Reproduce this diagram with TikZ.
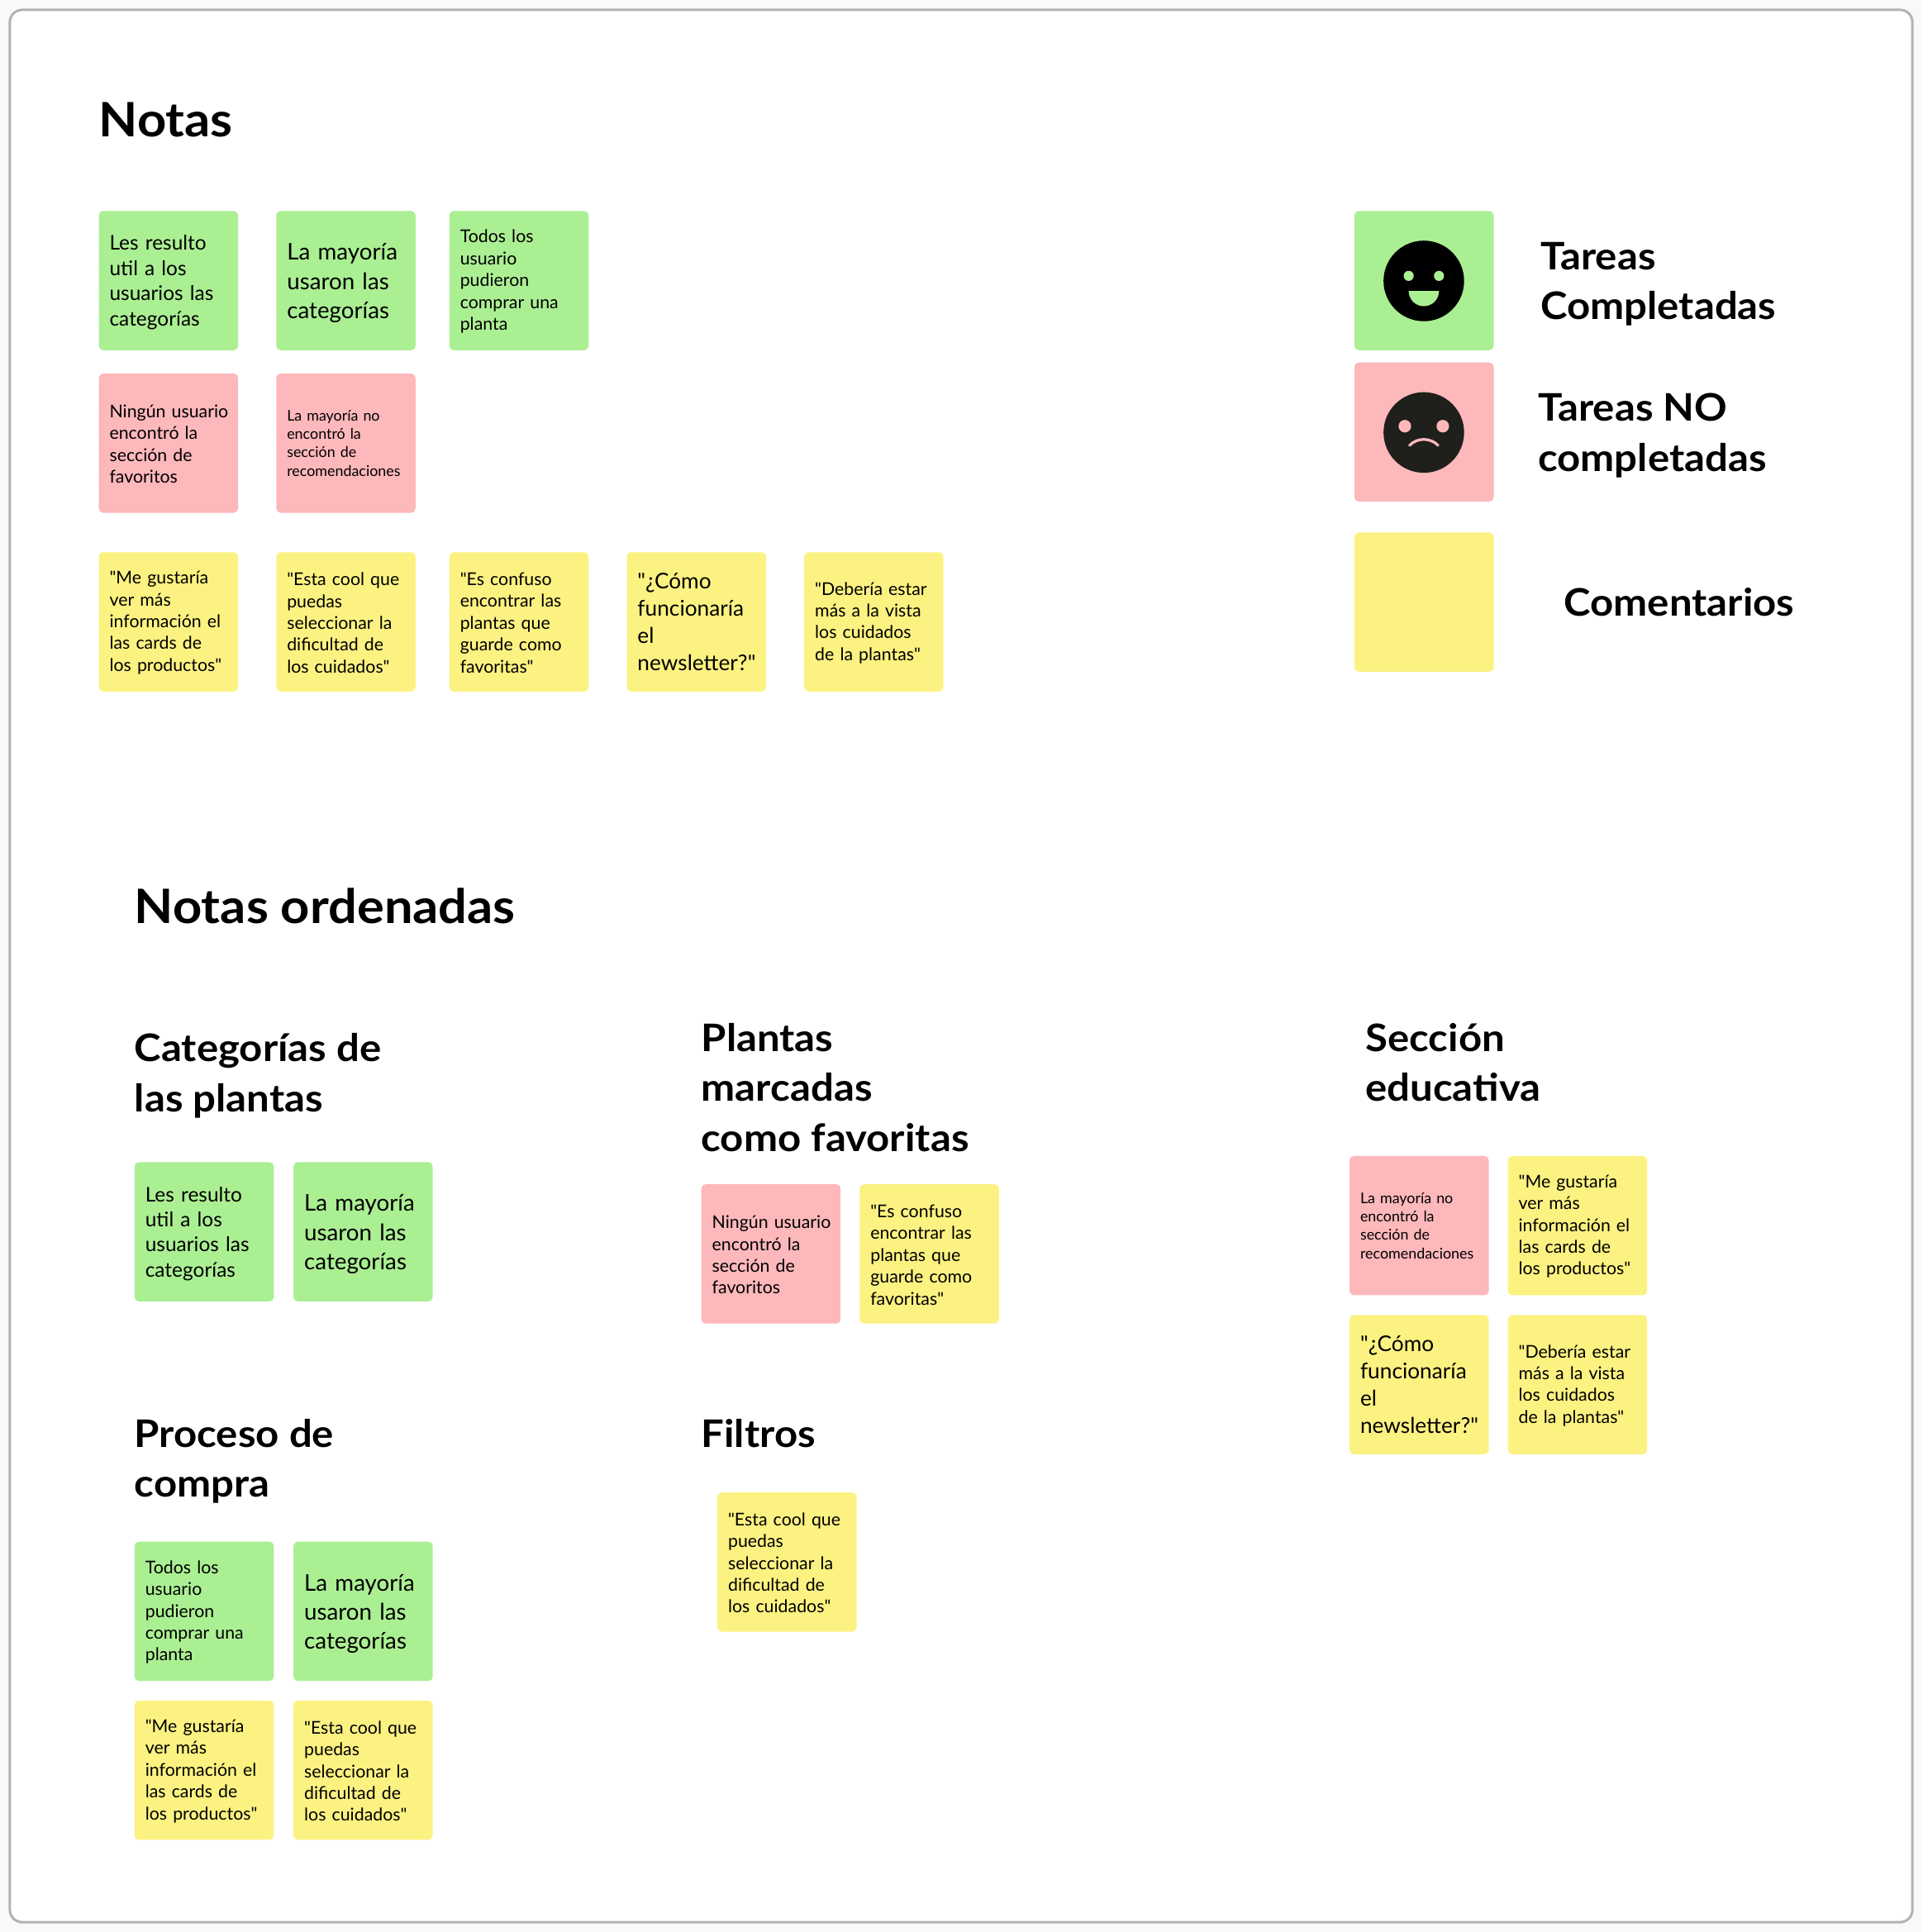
\documentclass[tikz,border=0pt]{standalone}
\usepackage{fontspec}
\setmainfont{Lato}[Ligatures=TeXOff, BoldFeatures={FakeStretch=1.07}]
\definecolor{verde}{HTML}{ABEF93}
\definecolor{rosa}{HTML}{FDB8BB}
\definecolor{amarillo}{HTML}{FCF281}
\definecolor{fondo}{HTML}{F9F9F9}
\definecolor{marco}{HTML}{B2B2B2}
\definecolor{carbon}{HTML}{1F1F1B}
\tikzset{
	nota/.style={anchor=north west, rectangle, rounded corners=3.5pt, minimum width=113pt, minimum height=113pt, inner xsep=8.7pt, inner ysep=0pt, text width=95.6pt, align=left, text=black},
	tamA/.style={font=\fontsize{16.4}{20.4}\selectfont, execute at end node=\vspace{-3pt}},
	tamB/.style={font=\fontsize{18.6}{23.6}\selectfont, execute at end node=\vspace{-4pt}},
	tamC/.style={font=\fontsize{14.3}{17.7}\selectfont, execute at end node=\vspace{-1.5pt}},
	tamD/.style={font=\fontsize{12}{15}\selectfont},
	tamE/.style={font=\fontsize{17.6}{22}\selectfont},
	titulo/.style={anchor=west, align=left, inner sep=0pt, font=\fontsize{30.8}{40.4}\selectfont\bfseries},
	titulog/.style={anchor=west, inner sep=0pt, font=\fontsize{38.5}{46}\selectfont\bfseries}
}
\def\tresulto{Les resulto\\util a los\\usuarios las\\categorías}
\def\tmayoria{La mayoría\\usaron las\\categorías}
\def\ttodos{Todos los\\usuario\\pudieron\\comprar una\\planta}
\def\tningun{Ningún~usuario\\encontró la\\sección de\\favoritos}
\def\tmayoriano{La mayoría no\\encontró la\\sección de\\recomendaciones}
\def\tgustaria{"Me gustaría\\ver más\\información el\\las cards de\\los productos"}
\def\tcool{"Esta cool que\\puedas\\seleccionar la\\dificultad de\\los cuidados"}
\def\tconfuso{"Es confuso\\encontrar las\\plantas que\\guarde como\\favoritas"}
\def\tcomo{"¿Cómo\\funcionaría\\el\\newsletter?"}
\def\tdeberia{"Debería estar\\más a la vista\\los cuidados\\de la plantas"}
\begin{document}
\begin{tikzpicture}[x=1pt, y=-1pt, line join=round, line cap=round]
	\useasboundingbox (0,0) rectangle (1560,1568);
	\fill[fondo] (0,0) rectangle (1560,1568);
	\draw[marco, fill=white, line width=2pt, rounded corners=10pt] (8,8) rectangle (1552,1560);
	% Notas
	\node[titulog] (notas) at (80,97) {Notas};
	\node[nota,tamA,fill=verde] (n1) at (80,171) {\tresulto};
	\node[nota,tamB,fill=verde] (n2) at (224,171) {\tmayoria};
	\node[nota,tamC,fill=verde] (n3) at (364.5,171) {\ttodos};
	\node[nota,tamC,fill=rosa] (n4) at (80,303) {\tningun};
	\node[nota,tamD,fill=rosa] (n5) at (224,303) {\tmayoriano};
	\node[nota,tamC,fill=amarillo] (n6) at (80,448) {\tgustaria};
	\node[nota,tamC,fill=amarillo] (n7) at (224,448) {\tcool};
	\node[nota,tamC,fill=amarillo] (n8) at (364.5,448) {\tconfuso};
	\node[nota,tamE,fill=amarillo] (n9) at (508.5,448) {\tcomo};
	\node[nota,tamC,fill=amarillo] (n10) at (652.5,448) {\tdeberia};
	% Leyenda
	\node[nota,fill=verde] (ley1) at (1099,171) {};
	\node[nota,fill=rosa] (ley2) at (1099,294) {};
	\node[nota,fill=amarillo] (ley3) at (1099,432) {};
	\node[titulo] (tley1) at (1250,230.5) {Tareas\\Completadas};
	\node[titulo] (tley2) at (1248,353.5) {Tareas NO\\completadas};
	\node[titulo] (tley3) at (1269,488.5) {Comentarios};
	% Caras
	\fill[black] (1155.5,228) circle (32.7);
	\fill[verde] (1143.2,223.9) circle (4.1) (1167.8,223.9) circle (4.1);
	\fill[verde] (1143.2,236.2) arc[start angle=180, end angle=0, radius=12.3] -- cycle;
	\fill[carbon] (1155.5,351) circle (32.7);
	\fill[rosa] (1140.1,345.9) circle (5.1) (1170.9,345.9) circle (5.1);
	\draw[rosa, line width=2.2pt] (1143.9,361.5) .. controls (1150,355) and (1161,355) .. (1167.1,361.5);
	% Notas ordenadas
	\node[titulog] (orden) at (109,735.5) {Notas ordenadas};
	\node[titulo] (cat) at (109,873) {Categorías de\\las plantas};
	\node[nota,tamA,fill=verde] (c1) at (109,943) {\tresulto};
	\node[nota,tamB,fill=verde] (c2) at (238,943) {\tmayoria};
	\node[titulo] (pla) at (569,882.5) {Plantas\\marcadas\\como favoritas};
	\node[nota,tamC,fill=rosa] (p1) at (569,961) {\tningun};
	\node[nota,tamC,fill=amarillo] (p2) at (697.5,961) {\tconfuso};
	\node[titulo] (sec) at (1108,862) {Sección\\educativa};
	\node[nota,tamD,fill=rosa] (s1) at (1095,938) {\tmayoriano};
	\node[nota,tamC,fill=amarillo] (s2) at (1223.5,938) {\tgustaria};
	\node[nota,tamE,fill=amarillo] (s3) at (1095,1067) {\tcomo};
	\node[nota,tamC,fill=amarillo] (s4) at (1223.5,1067) {\tdeberia};
	\node[titulo] (pro) at (109,1186) {Proceso de\\compra};
	\node[nota,tamC,fill=verde] (r1) at (109,1251) {\ttodos};
	\node[nota,tamB,fill=verde] (r2) at (238,1251) {\tmayoria};
	\node[nota,tamC,fill=amarillo] (r3) at (109,1380) {\tgustaria};
	\node[nota,tamC,fill=amarillo] (r4) at (238,1380) {\tcool};
	\node[titulo] (fil) at (569,1163.5) {Filtros};
	\node[nota,tamC,fill=amarillo] (f1) at (582,1211) {\tcool};
\end{tikzpicture}
\end{document}
